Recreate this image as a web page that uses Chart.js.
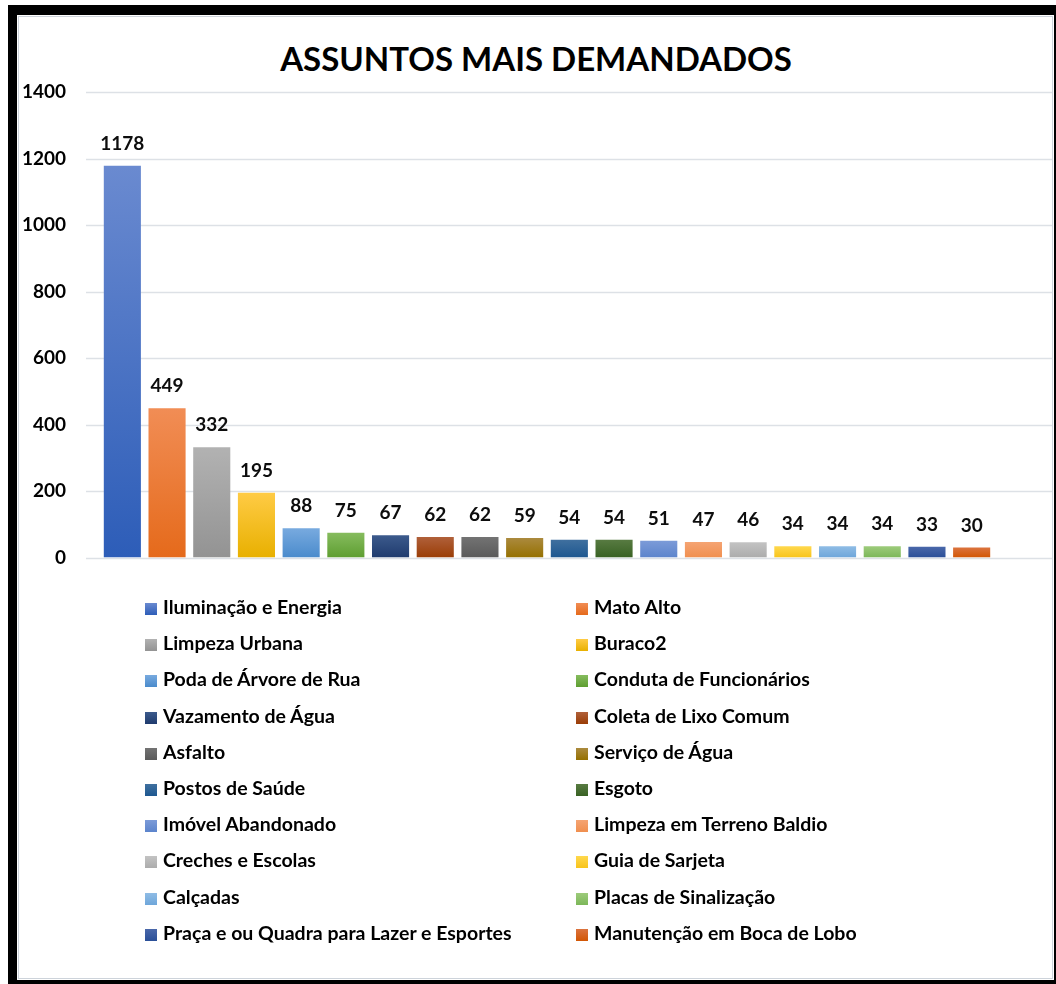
<!DOCTYPE html>
<html lang="pt-BR">
<head>
<meta charset="utf-8">
<title>Assuntos mais demandados</title>
<script src="https://cdn.jsdelivr.net/npm/chart.js@4.4.1/dist/chart.umd.min.js"></script>
<style>
  html, body { margin: 0; padding: 0; background: #fff; }
  body { width: 1056px; height: 984px; position: relative; overflow: hidden; font-family: Lato, "Open Sans", sans-serif; }
  #moldura { position: absolute; left: 8px; top: 5px; width: 1048px; height: 979px; background: #000; }
  #fundo { position: absolute; left: 17px; top: 15px; width: 1037px; height: 965px; background: #fff; }
  #borda { position: absolute; left: 18px; top: 16px; width: 1033px; height: 961px; border: 1px solid #cdd3da; }
  #titulo { position: absolute; left: 0; width: 1072px; top: 38px; text-align: center;
            font: bold 33px Lato, sans-serif; color: #000; }
  #grafico { position: absolute; left: 0; top: 0; }
  #legenda { position: absolute; left: 0; top: 0; width: 1056px; height: 984px; pointer-events: none; }
  .item { position: absolute; font: bold 19.5px Lato, sans-serif; color: #000; white-space: nowrap; line-height: 22px; }
  .item i { display: inline-block; width: 12px; height: 12px; margin-right: 6px; vertical-align: -1px; }
</style>
</head>
<body>
<div id="moldura"></div>
<div id="fundo"></div>
<div id="borda"></div>
<div id="titulo">ASSUNTOS MAIS DEMANDADOS</div>
<canvas id="grafico" width="1056" height="603"></canvas>
<div id="legenda"></div>
<script>
// assuntos e quantidade de demandas
const assuntos = [
  "Iluminação e Energia", "Mato Alto", "Limpeza Urbana", "Buraco2",
  "Poda de Árvore de Rua", "Conduta de Funcionários", "Vazamento de Água",
  "Coleta de Lixo Comum", "Asfalto", "Serviço de Água", "Postos de Saúde",
  "Esgoto", "Imóvel Abandonado", "Limpeza em Terreno Baldio", "Creches e Escolas",
  "Guia de Sarjeta", "Calçadas", "Placas de Sinalização",
  "Praça e ou Quadra para Lazer e Esportes", "Manutenção em Boca de Lobo"
];
const demandas = [1178, 449, 332, 195, 88, 75, 67, 62, 62, 59, 54, 54, 51, 47, 46, 34, 34, 34, 33, 30];
const ticksY = [0, 200, 400, 600, 800, 1000, 1200, 1400];

// cor de cima e cor de baixo do degradê de cada barra
const corTopo = [
  "#6a8ad0", "#f18d55", "#b2b2b2", "#ffcb45", "#78aadf", "#86bc5e", "#3c5a8c",
  "#b0603a", "#737373", "#ab8a3e", "#40709f", "#587b42", "#7c9bd8", "#f5a473",
  "#c3c3c3", "#ffd84d", "#8fbce5", "#9dcb7b", "#4a68aa", "#db733e"
];
const corBase = [
  "#2d5db8", "#e56a1b", "#939393", "#e8b000", "#4a8bcc", "#5e9e31", "#1f3b6e",
  "#9a3d06", "#5a5a5a", "#957000", "#1d5790", "#386123", "#5c84cc", "#f08f4f",
  "#acacac", "#f8c41b", "#6ea6da", "#7cb759", "#2a4f98", "#d25604"
];

const fonte = "bold 19px Lato, sans-serif";

function degrade(ctx, i, yTopo, yBase) {
  const g = ctx.createLinearGradient(0, yTopo, 0, yBase);
  g.addColorStop(0, corTopo[i]);
  g.addColorStop(1, corBase[i]);
  return g;
}

// linhas de grade que passam do eixo até a borda direita
const gradeLarga = {
  id: "gradeLarga",
  beforeDatasetsDraw(chart) {
    const { ctx, scales } = chart;
    ctx.save();
    ctx.strokeStyle = "#dde1e6";
    ctx.lineWidth = 1.5;
    ticksY.forEach(v => {
      const y = Math.round(scales.y.getPixelForValue(v)) + 0.5;
      ctx.beginPath();
      ctx.moveTo(86, y);
      ctx.lineTo(1052, y);
      ctx.stroke();
    });
    ctx.restore();
  }
};

// rótulo com o valor acima de cada barra
const rotulos = {
  id: "rotulos",
  afterDatasetsDraw(chart) {
    const { ctx } = chart;
    const meta = chart.getDatasetMeta(0);
    ctx.save();
    ctx.font = fonte;
    ctx.fillStyle = "#0d0d0d";
    ctx.textAlign = "center";
    ctx.textBaseline = "middle";
    meta.data.forEach((barra, i) => {
      ctx.fillText(String(demandas[i]), barra.x, barra.y - 22);
    });
    ctx.restore();
  }
};

const grafico = new Chart(document.getElementById("grafico"), {
  type: "bar",
  data: {
    labels: assuntos,
    datasets: [{
      data: demandas,
      barPercentage: 0.83,
      categoryPercentage: 1,
      borderWidth: 0,
      backgroundColor(c) {
        const chart = c.chart;
        if (!chart.chartArea || !chart.scales.y) return corBase[c.dataIndex];
        const y = chart.scales.y;
        return degrade(chart.ctx, c.dataIndex, y.getPixelForValue(demandas[c.dataIndex]), y.getPixelForValue(0));
      }
    }]
  },
  options: {
    responsive: false,
    animation: false,
    layout: { padding: { left: 0, right: 62, top: 92, bottom: 17 } },
    scales: {
      x: { display: false },
      y: {
        min: 0,
        max: 1400,
        afterFit(s) { s.width = 100; },
        afterBuildTicks(s) { s.ticks = ticksY.map(v => ({ value: v })); },
        grid: { display: false, drawTicks: false },
        border: { display: false },
        ticks: {
          padding: 34,
          color: "#000",
          font: { family: "Lato, sans-serif", size: 19, weight: "bold" },
          callback: v => String(v)
        }
      }
    },
    plugins: {
      legend: { display: false },
      tooltip: { enabled: false },
      title: { display: false }
    }
  },
  plugins: [gradeLarga, rotulos]
});

// legenda em duas colunas, montada com os mesmos dados
const legenda = document.getElementById("legenda");
assuntos.forEach((nome, i) => {
  const linha = Math.floor(i / 2), coluna = i % 2;
  const el = document.createElement("div");
  el.className = "item";
  el.style.left = (coluna === 0 ? 145 : 576) + "px";
  el.style.top = (596 + linha * 36.2) + "px";
  const caixa = document.createElement("i");
  caixa.style.background = "linear-gradient(" + corTopo[i] + "," + corBase[i] + ")";
  el.appendChild(caixa);
  el.appendChild(document.createTextNode(nome));
  legenda.appendChild(el);
});
</script>
</body>
</html>
